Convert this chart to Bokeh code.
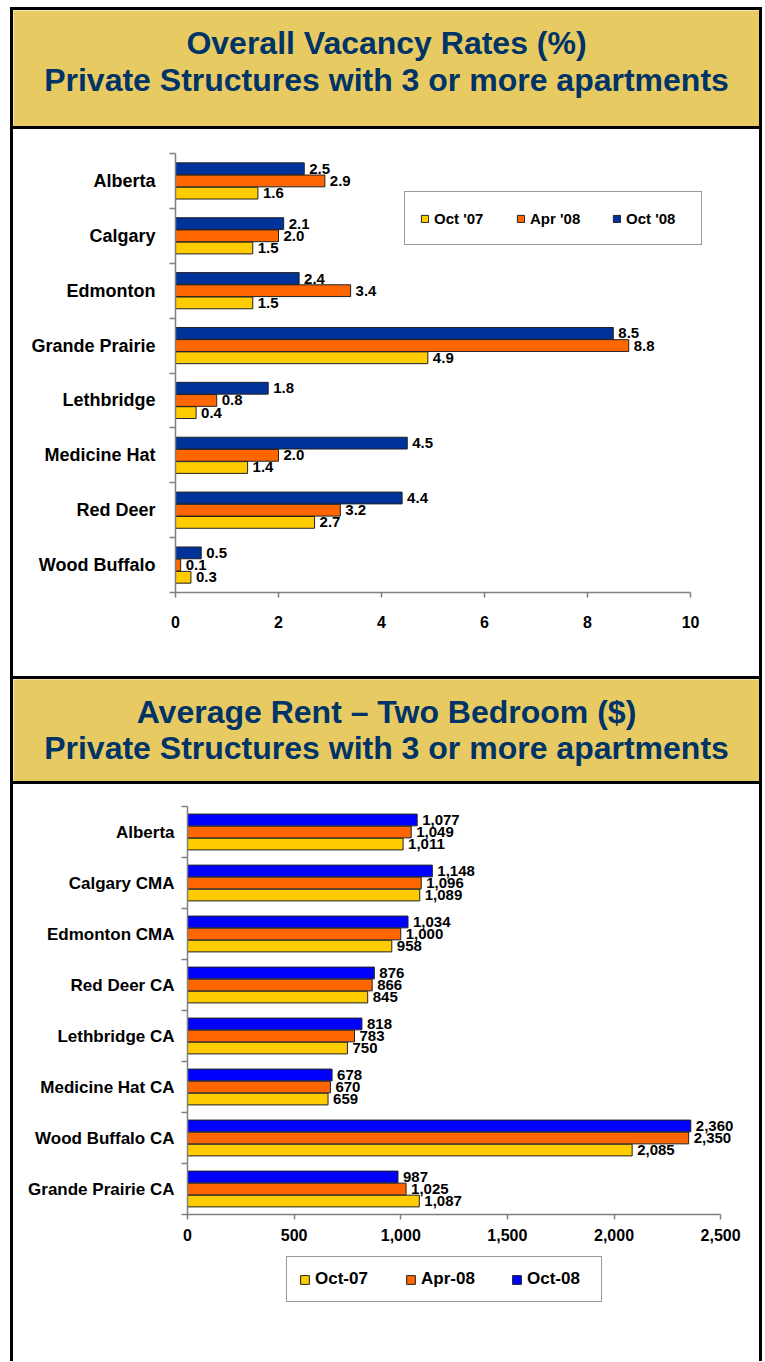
from bokeh.plotting import figure
from bokeh.models import (ColumnDataSource, Range1d, FixedTicker, NumeralTickFormatter,
                          Legend, LegendItem, Div)
from bokeh.layouts import row
from bokeh.transform import dodge
from bokeh.core.properties import value
from bokeh.embed import file_html
from bokeh.resources import INLINE

# ---------------- data ----------------
vac_title = ["Overall Vacancy Rates (%)", "Private Structures with 3 or more apartments"]
vac_cities = ["Alberta", "Calgary", "Edmonton", "Grande Prairie", "Lethbridge",
              "Medicine Hat", "Red Deer", "Wood Buffalo"]
vac_oct07 = [1.6, 1.5, 1.5, 4.9, 0.4, 1.4, 2.7, 0.3]
vac_apr08 = [2.9, 2.0, 3.4, 8.8, 0.8, 2.0, 3.2, 0.1]
vac_oct08 = [2.5, 2.1, 2.4, 8.5, 1.8, 4.5, 4.4, 0.5]
vac_series = ["Oct '07", "Apr '08", "Oct '08"]
vac_ticks = [0, 2, 4, 6, 8, 10]

rent_title = ["Average Rent \u2013 Two Bedroom ($)", "Private Structures with 3 or more apartments"]
rent_cities = ["Alberta", "Calgary CMA", "Edmonton CMA", "Red Deer CA", "Lethbridge CA",
               "Medicine Hat CA", "Wood Buffalo CA", "Grande Prairie CA"]
rent_oct07 = [1011, 1089, 958, 845, 750, 659, 2085, 1087]
rent_apr08 = [1049, 1096, 1000, 866, 783, 670, 2350, 1025]
rent_oct08 = [1077, 1148, 1034, 876, 818, 678, 2360, 987]
rent_series = ["Oct-07", "Apr-08", "Oct-08"]
rent_ticks = [0, 500, 1000, 1500, 2000, 2500]

# ---------------- styles ----------------
FONT = "Liberation Sans"
GOLD = "#E8CA63"
TITLE_COLOR = "#003366"
AXIS_COLOR = "#808080"
BAR_LINE = "#222222"
VAC_COLORS = ["#FFCC00", "#FF6600", "#003399"]
RENT_COLORS = ["#FFCC00", "#FF6600", "#0000FF"]
W = 746


def plain_fig(h, fill):
    p = figure(width=W, height=h, x_range=Range1d(0, 1), y_range=Range1d(0, h),
               output_backend="svg", toolbar_location=None, title=None,
               x_axis_location=None, y_axis_location=None, min_border=0,
               background_fill_color=fill, border_fill_color=fill, outline_line_color=None)
    p.grid.visible = False
    return p


def title_band(lines, h, baselines):
    p = plain_fig(h, GOLD)
    p.text(x=[0.5] * len(lines), y=[h - b for b in baselines], text=lines,
           text_align="center", text_baseline="alphabetic", text_font=value(FONT),
           text_font_style="bold", text_font_size="32px", text_color=TITLE_COLOR)
    return p


def legend_kwargs(font_size):
    return dict(orientation="horizontal", margin=0, label_text_font=FONT,
                label_text_font_style="bold", label_text_color="black",
                label_text_font_size=font_size, background_fill_color="white",
                background_fill_alpha=1.0, border_line_color="#333333", border_line_width=1.5)


def bar_chart(cities, series_vals, series_names, colors, ticks, x_end, fmt, h, mb,
              bar_h, off, cat_font, tick_font, lab_font, cat_standoff, tick_standoff,
              tick_formatter):
    n = len(cities)
    ypos = [n - i for i in range(n)]
    p = figure(width=W, height=h, x_range=Range1d(ticks[0], x_end),
               y_range=Range1d(0.5, n + 0.5), output_backend="svg", toolbar_location=None,
               min_border_left=mb[0], min_border_right=mb[1], min_border_top=mb[2],
               min_border_bottom=mb[3], outline_line_color=None,
               background_fill_color="white", border_fill_color="white")
    p.grid.visible = False

    renderers = []
    for k, (vals, name, color) in enumerate(zip(series_vals, series_names, colors)):
        src = ColumnDataSource(dict(y=ypos, v=vals, lab=[fmt(v) for v in vals]))
        yy = dodge("y", (k - 1) * off)
        r = p.hbar(y=yy, right="v", left=0, height=bar_h, source=src,
                   fill_color=color, line_color=BAR_LINE, line_width=1)
        p.text(x="v", y=yy, text="lab", source=src, x_offset=5, text_baseline="middle",
               text_align="left", text_font=value(FONT), text_font_style="bold",
               text_font_size=lab_font, text_color="black")
        renderers.append(r)

    yax = p.yaxis[0]
    bounds = sorted(set([y - 0.5 for y in ypos] + [y + 0.5 for y in ypos]))
    yax.ticker = FixedTicker(ticks=ypos, minor_ticks=bounds)
    yax.major_label_overrides = {y: c for y, c in zip(ypos, cities)}
    yax.axis_line_color = AXIS_COLOR
    yax.axis_line_width = 1.5
    yax.major_tick_line_color = None
    yax.major_tick_out = 0
    yax.major_tick_in = 0
    yax.minor_tick_line_color = AXIS_COLOR
    yax.minor_tick_line_width = 1.5
    yax.minor_tick_out = 6
    yax.minor_tick_in = 0
    yax.major_label_text_font = FONT
    yax.major_label_text_font_style = "bold"
    yax.major_label_text_font_size = cat_font
    yax.major_label_text_color = "black"
    yax.major_label_standoff = cat_standoff

    xax = p.xaxis[0]
    xax.ticker = FixedTicker(ticks=ticks, minor_ticks=[])
    xax.bounds = (ticks[0], ticks[-1])
    if tick_formatter is not None:
        xax.formatter = tick_formatter
    xax.axis_line_color = AXIS_COLOR
    xax.axis_line_width = 1.5
    xax.major_tick_line_color = AXIS_COLOR
    xax.major_tick_line_width = 1.5
    xax.major_tick_out = 5
    xax.major_tick_in = 0
    xax.minor_tick_line_color = None
    xax.major_label_text_font = FONT
    xax.major_label_text_font_style = "bold"
    xax.major_label_text_font_size = tick_font
    xax.major_label_text_color = "black"
    xax.major_label_standoff = tick_standoff
    return p, renderers


t1 = title_band(vac_title, 116, [32, 69])
c1, r1 = bar_chart(vac_cities, [vac_oct07, vac_apr08, vac_oct08], vac_series, VAC_COLORS,
                   vac_ticks, 10.97, lambda v: "%.1f" % v, 547, (162, 19, 24, 84),
                   0.215, 0.222, "18px", "16px", "15px", 14, 18, None)
leg1 = Legend(items=[LegendItem(label=nm, renderers=[r]) for nm, r in zip(vac_series, r1)],
              location=(229, 347), glyph_width=9, glyph_height=9, label_standoff=5,
              label_width=60, spacing=22, padding=15, label_height=22,
              **legend_kwargs("15px"))
c1.add_layout(leg1, "center")

t2 = title_band(rent_title, 102, [32, 68])
c2, r2 = bar_chart(rent_cities, [rent_oct07, rent_apr08, rent_oct08], rent_series, RENT_COLORS,
                   rent_ticks, 2640, lambda v: "{:,}".format(v), 466, (174, 9, 22, 36),
                   0.23, 0.236, "17px", "16px", "15px", 7, 9,
                   NumeralTickFormatter(format="0,0"))

# legend strip under the second chart: hidden copies of the series give the legend its swatches
lf = plain_fig(111, "white")
lr = []
for vals, c in zip([rent_oct07, rent_apr08, rent_oct08], RENT_COLORS):
    lsrc = ColumnDataSource(dict(y=list(range(len(vals))), v=vals))
    lr.append(lf.hbar(y="y", right="v", height=0.1, source=lsrc, fill_color=c,
                      line_color=BAR_LINE, line_width=1, visible=False))
leg2 = Legend(items=[LegendItem(label=nm, renderers=[r]) for nm, r in zip(rent_series, lr)],
              location=(273, 59), glyph_width=11, glyph_height=11, label_standoff=5,
              label_width=62, spacing=28, padding=12, label_height=17,
              **legend_kwargs("17px"))
lf.add_layout(leg2, "center")


def blank(w, h):
    return Div(text="", width=w, height=h, margin=0)


def black(w, h):
    return Div(text="", width=w, height=h, margin=0, styles={"background-color": "black"})


def section(fig, h):
    return row(blank(10, h), black(3, h), fig, black(3, h), spacing=0)


def sep():
    return row(blank(10, 3), black(W + 6, 3), spacing=0)


roots = [blank(W + 16, 7), sep(), section(t1, 116), sep(), section(c1, 547), sep(),
         section(t2, 102), sep(), section(c2, 466), section(lf, 111)]

open("out.html", "w").write(file_html(roots, INLINE))
